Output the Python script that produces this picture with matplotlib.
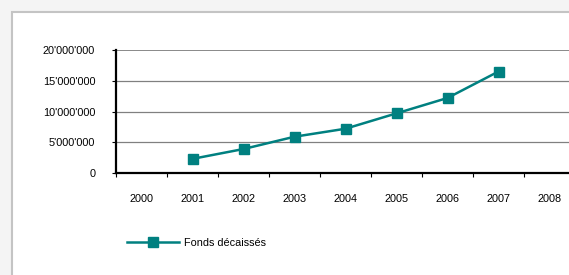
import matplotlib
matplotlib.use("Agg")
import matplotlib.pyplot as plt
from matplotlib.patches import Rectangle
import numpy as np

plt.rcParams["font.family"] = ["Liberation Sans", "DejaVu Sans"]

years = ["2000", "2001", "2002", "2003", "2004", "2005", "2006", "2007", "2008"]
fonds = [None, 2.3e6, 3.9e6, 5.9e6, 7.2e6, 9.7e6, 12.2e6, 16.5e6, None]
yticks = [0, 5e6, 10e6, 15e6, 20e6]
ylabels = ["0", "5'000'000", "10'000'000", "15'000'000", "20'000'000"]

TEAL = "#008080"

fig = plt.figure(figsize=(5.69, 2.75), dpi=100)
fig.patch.set_facecolor("#f4f4f4")
# white chart box with gray border
fig.patches.append(Rectangle((11.5 / 569, -0.1), 1.2, 1 - 11.5 / 275 + 0.1,
                             transform=fig.transFigure, facecolor="white",
                             edgecolor="#c4c4c4", linewidth=1.5, zorder=-5))

ax = fig.add_axes([116 / 569, 1 - 173 / 275, 459 / 569, 123 / 275])
ax.set_facecolor("none")

x = np.arange(len(years))
xs = [xi for xi, v in zip(x, fonds) if v is not None]
vs = [v for v in fonds if v is not None]
ax.plot(xs, vs, color=TEAL, lw=1.8, marker="s", ms=6.5, mec=TEAL, mfc=TEAL,
        label="Fonds décaissés", clip_on=False, zorder=3)

ax.set_xlim(-0.5, len(years) - 0.5)
ax.set_ylim(0, 20e6)

ax.set_yticks(yticks)
ax.set_yticklabels(ylabels, fontsize=7.8)
for yv in yticks[1:]:
    ax.axhline(yv, color="#808080", lw=1.3 if yv == 20e6 else 0.9, zorder=1)

# year labels at category centres, tick marks at boundaries
ax.set_xticks(x)
ax.set_xticklabels(years, fontsize=7.8)
ax.set_xticks(np.arange(-0.5, len(years)), minor=True)
ax.tick_params(axis="x", which="major", length=0, pad=15)
ax.tick_params(axis="x", which="minor", length=3, width=0.8, direction="out")
ax.tick_params(axis="y", length=3, width=0.8, direction="out", pad=12)

for s in ["top", "right"]:
    ax.spines[s].set_visible(False)
ax.spines["left"].set_linewidth(1.6)
ax.spines["bottom"].set_linewidth(1.6)

leg = ax.legend(loc="center left", bbox_to_anchor=(117 / 569, 1 - 243 / 275),
                bbox_transform=fig.transFigure, frameon=False, fontsize=7.8,
                handlelength=4.8, handletextpad=0.5)

fig.savefig("out.png", dpi=100, facecolor=fig.get_facecolor())
